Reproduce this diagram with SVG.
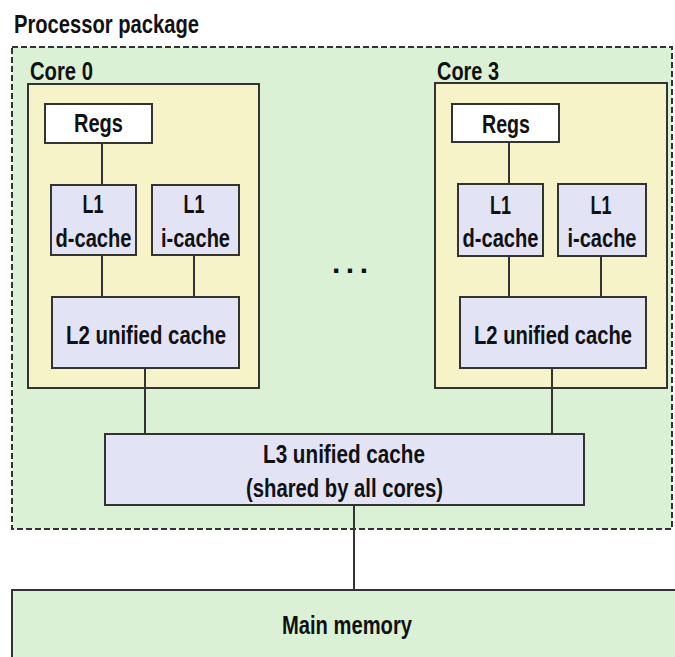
<svg xmlns="http://www.w3.org/2000/svg" width="675" height="657" viewBox="0 0 675 657">
<style>
  text { font-family: "Liberation Sans Narrow", "Liberation Sans", Arial, sans-serif; font-weight: bold; font-size: 25px; fill: #111; }
  .c { text-anchor: middle; }
  .pkg { fill: #dbf1d5; stroke: #333; stroke-width: 2; stroke-dasharray: 6 3; }
  .core { fill: #f6f3c9; stroke: #333; stroke-width: 2; }
  .cache { fill: #e2e4f6; stroke: #333; stroke-width: 2; }
  .regs { fill: #ffffff; stroke: #333; stroke-width: 2; }
  .mem { fill: #dbf1d5; stroke: #333; stroke-width: 2; }
  .conn line { stroke: #333; stroke-width: 2; }
</style>
<rect width="675" height="657" fill="#ffffff"/>

<g id="package">
  <rect class="pkg" x="12" y="47" width="660" height="482"/>
  <text x="14" y="33" textLength="185" lengthAdjust="spacingAndGlyphs">Processor package</text>
</g>

<g id="core0">
  <text x="30" y="80" textLength="63" lengthAdjust="spacingAndGlyphs">Core 0</text>
  <rect class="core" x="28" y="84" width="231" height="304"/>
</g>
<g id="core0-regs">
  <rect class="regs" x="45" y="104" width="107" height="39"/>
  <text class="c" x="98.5" y="132" textLength="49" lengthAdjust="spacingAndGlyphs">Regs</text>
</g>
<g id="core0-l1d">
  <rect class="cache" x="51" y="185" width="85" height="70"/>
  <text class="c" x="93" y="213" textLength="21" lengthAdjust="spacingAndGlyphs">L1</text>
  <text class="c" x="93.5" y="247" textLength="76" lengthAdjust="spacingAndGlyphs">d-cache</text>
</g>
<g id="core0-l1i">
  <rect class="cache" x="152" y="185" width="87" height="70"/>
  <text class="c" x="194" y="213" textLength="21" lengthAdjust="spacingAndGlyphs">L1</text>
  <text class="c" x="195.5" y="247" textLength="69" lengthAdjust="spacingAndGlyphs">i-cache</text>
</g>
<g id="core0-l2">
  <rect class="cache" x="52" y="297" width="187" height="71"/>
  <text class="c" x="146" y="344" textLength="160" lengthAdjust="spacingAndGlyphs">L2 unified cache</text>
</g>

<g id="core3">
  <text x="437" y="80" textLength="62" lengthAdjust="spacingAndGlyphs">Core 3</text>
  <rect class="core" x="435" y="83" width="232" height="305"/>
</g>
<g id="core3-regs">
  <rect class="regs" x="452" y="104" width="107" height="38"/>
  <text class="c" x="506" y="133" textLength="48" lengthAdjust="spacingAndGlyphs">Regs</text>
</g>
<g id="core3-l1d">
  <rect class="cache" x="458" y="184" width="85" height="72"/>
  <text class="c" x="500.5" y="214" textLength="21" lengthAdjust="spacingAndGlyphs">L1</text>
  <text class="c" x="500.5" y="247" textLength="76" lengthAdjust="spacingAndGlyphs">d-cache</text>
</g>
<g id="core3-l1i">
  <rect class="cache" x="558" y="184" width="88" height="72"/>
  <text class="c" x="601" y="214" textLength="21" lengthAdjust="spacingAndGlyphs">L1</text>
  <text class="c" x="602" y="247" textLength="69" lengthAdjust="spacingAndGlyphs">i-cache</text>
</g>
<g id="core3-l2">
  <rect class="cache" x="460" y="297" width="186" height="71"/>
  <text class="c" x="553" y="344" textLength="158" lengthAdjust="spacingAndGlyphs">L2 unified cache</text>
</g>

<g id="ellipsis">
  <text x="332" y="273" style="font-size:30px" textLength="36" lengthAdjust="spacing">...</text>
</g>

<g id="l3">
  <rect class="cache" x="105" y="434" width="479" height="71"/>
  <text class="c" x="344" y="463" textLength="162" lengthAdjust="spacingAndGlyphs">L3 unified cache</text>
  <text class="c" x="344.5" y="497" textLength="197" lengthAdjust="spacingAndGlyphs">(shared by all cores)</text>
</g>

<g id="main-memory">
  <rect class="mem" x="12" y="590" width="680" height="90"/>
  <text class="c" x="347" y="634" textLength="130" lengthAdjust="spacingAndGlyphs">Main memory</text>
</g>

<g id="connectors" class="conn">
  <line x1="102" y1="143" x2="102" y2="185"/>
  <line x1="102" y1="255" x2="102" y2="297"/>
  <line x1="194" y1="255" x2="194" y2="297"/>
  <line x1="145" y1="368" x2="145" y2="434"/>
  <line x1="509" y1="142" x2="509" y2="184"/>
  <line x1="509" y1="256" x2="509" y2="297"/>
  <line x1="601" y1="256" x2="601" y2="297"/>
  <line x1="552" y1="368" x2="552" y2="434"/>
  <line x1="354" y1="505" x2="354" y2="590"/>
</g>
</svg>
